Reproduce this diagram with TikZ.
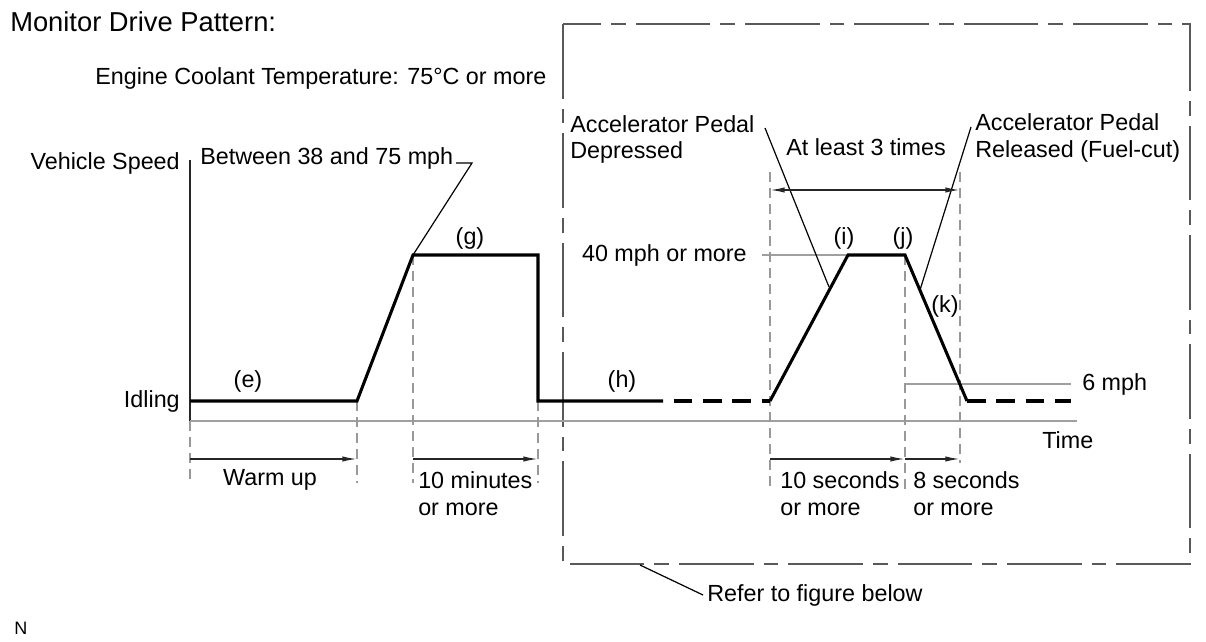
\documentclass[tikz,border=0pt]{standalone}
\usepackage{fontspec}
\setmainfont{Liberation Sans}
\usetikzlibrary{arrows.meta}

\begin{document}
\begin{tikzpicture}[x=0.75pt, y=-0.75pt,
    every node/.style={inner sep=0pt, font=\fontsize{17.5}{20}\selectfont},
    profile/.style={line width=2.3pt},
    profiledash/.style={line width=2.3pt, dash pattern=on 14pt off 8pt},
    axisline/.style={gray!75, line width=1.9pt},
    levelline/.style={gray!75, line width=1.5pt},
    guide/.style={gray!80, line width=1.1pt, dash pattern=on 7.5pt off 4.5pt},
    leader/.style={black, line width=0.9pt},
    dim/.style={black!85, line width=1.1pt, -{Latex[length=11pt, width=4pt]}},
    framebox/.style={gray!70!black, line width=1.1pt, dash pattern=on 56pt off 7.5pt on 11pt off 7.5pt}]
    \useasboundingbox (0,0) rectangle (1206,642);
    \node[anchor=west, font=\fontsize{20.5}{24}\selectfont] (title) at (10,22) {Monitor Drive Pattern:};
    \node[anchor=west] (ect) at (95,78) {Engine Coolant Temperature: 75°C or more};
    \node[anchor=west, font=\fontsize{13.5}{16}\selectfont] (N) at (14,628) {N};
    \draw[framebox] (563,24) rectangle (1190,564);
    \coordinate (Ytop) at (190,160);
    \coordinate (O) at (190,421);
    \coordinate (Xend) at (1077,421);
    \draw[black!85, line width=1.3pt] (Ytop) -- (O);
    \draw[axisline] (O) -- (Xend);
    \node[anchor=east] (vs) at (180,163) {Vehicle Speed};
    \node[anchor=east] (idle) at (180,401) {Idling};
    \node[anchor=west] (time) at (1042,440) {Time};
    \coordinate (P0) at (190,401);
    \coordinate (P1) at (357,401);
    \coordinate (P2) at (413,255);
    \coordinate (P3) at (538,255);
    \coordinate (P4) at (538,401);
    \coordinate (P5) at (663,401);
    \coordinate (P6) at (770,401);
    \coordinate (P7) at (848,255);
    \coordinate (P8) at (905,255);
    \coordinate (P9) at (967,401);
    \coordinate (P10) at (1071,401);
    \coordinate (L40) at (762,255);
    \coordinate (L6a) at (905,384);
    \coordinate (L6b) at (1071,384);
    \node[anchor=east] (v40) at (747,255) {40 mph or more};
    \node[anchor=west] (v6) at (1082,384) {6 mph};
    \draw[levelline] (L40) -- (P7);
    \draw[levelline] (L6a) -- (L6b);
    \draw[guide] (O) -- (190,483);
    \draw[guide] (P1) -- (357,483);
    \draw[guide] (P2) -- (413,483);
    \draw[guide] (P4) -- (538,483);
    \draw[guide] (770,172) -- (770,490);
    \draw[guide] (P8) -- (905,490);
    \draw[guide] (960,172) -- (960,463);
    \draw[profile] (P0) -- (P1) -- (P2) -- (P3) -- (P4) -- (P5);
    \draw[profiledash, dash phase=14pt] (P5) -- (P6);
    \draw[profile] (P6) -- (P7) -- (P8) -- (P9);
    \draw[profiledash] (P9) -- (P10);
    \node (e) at (248,381) {(e)};
    \node (g) at (470,238) {(g)};
    \node (h) at (622,381) {(h)};
    \node (i) at (844,238) {(i)};
    \node (j) at (903,238) {(j)};
    \node (k) at (945,306) {(k)};
    \node[anchor=west] (btw) at (200,158) {Between 38 and 75 mph};
    \coordinate (Bk) at (472,163);
    \draw[leader] ([xshift=2pt]btw.east |- Bk) -- (Bk) -- (P2);
    \node[anchor=west, align=left] (apd) at (570,139.5) {Accelerator Pedal\\Depressed};
    \node[anchor=west, align=left] (apr) at (975,138) {Accelerator Pedal\\Released (Fuel-cut)};
    \coordinate (Dend) at (829,287);
    \coordinate (Rend) at (920,290);
    \draw[leader] (765,128) -- (Dend);
    \draw[leader] (971,127) -- (Rend);
    \node (three) at (866,147) {At least 3 times};
    \draw[dim, {Latex[length=11pt, width=4pt]}-{Latex[length=11pt, width=4pt]}] (770,190) -- (960,190);
    \draw[dim] (190,459) -- (357,459);
    \draw[dim] (413,459) -- (538,459);
    \draw[dim] (770,459) -- (905,459);
    \draw[dim] (905,459) -- (960,459);
    \node (warm) at (270,480) {Warm up};
    \node[anchor=west, align=left] (min10) at (418,493.5) {10 minutes\\or more};
    \node[anchor=west, align=left] (sec10) at (780,493.5) {10 seconds\\or more};
    \node[anchor=west, align=left] (sec8) at (913,493.5) {8 seconds\\or more};
    \node[anchor=west] (refer) at (707,595) {Refer to figure below};
    \draw[leader] ([xshift=-3pt]refer.west) -- (640,565);
\end{tikzpicture}
\end{document}
